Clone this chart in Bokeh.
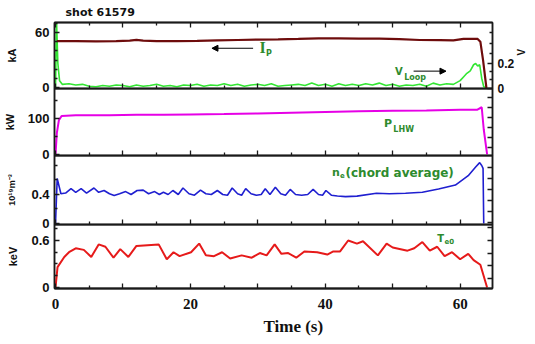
import math
from bokeh.plotting import figure
from bokeh.layouts import column
from bokeh.models import Range1d, LinearAxis, FixedTicker, Label, Arrow, NormalHead, Title
from bokeh.embed import file_html
from bokeh.resources import INLINE

# ---------------- data ----------------
shot_title = "shot 61579"

t_ip = [0.2, 3, 6, 9, 11, 12, 13, 15, 18, 21, 24, 27, 30, 33, 36, 39, 42, 45, 48, 51,
        54, 57, 59, 60.5, 62.6, 63.0, 63.4, 63.9]
ip_ka = [50.5, 50.5, 50.4, 50.5, 51.2, 52.0, 51.2, 50.6, 50.7, 50.9, 51.4, 51.8, 52.2, 52.5,
         53.0, 53.6, 53.6, 53.4, 53.2, 52.8, 51.8, 51.6, 51.5, 53.0, 53.0, 50.0, 30.0, 0.0]

t_vloop = [0, 0.15, 0.35, 0.6, 1, 2, 3, 4, 5, 6, 7, 8, 9, 10, 11, 12, 13, 14, 15, 16, 17, 18,
           19, 20, 21, 22, 23, 24, 25, 26, 27, 28, 29, 30, 31, 32, 33, 34, 35, 36, 37, 38, 39,
           40, 41, 42, 43, 44, 45, 46, 47, 48, 49, 50, 51, 52, 53, 54, 55, 56, 57, 58, 59, 60,
           60.5, 61, 61.5, 62, 62.3, 62.6, 62.9, 63.2, 63.5, 64]
vloop_v = [0.0, 0.55, 0.2, 0.06, 0.03, 0.035, 0.025, 0.03, 0.015, 0.01, 0.02, 0.015, 0.025,
           0.02, 0.01, 0.025, 0.015, 0.02, 0.03, 0.015, 0.02, 0.01, 0.025, 0.02, 0.03, 0.015,
           0.025, 0.02, 0.035, 0.02, 0.03, 0.015, 0.025, 0.03, 0.02, 0.035, 0.015, 0.02, 0.025,
           0.03, 0.02, 0.04, 0.02, 0.03, 0.015, 0.035, 0.02, 0.03, 0.02, 0.035, 0.025, 0.04,
           0.02, 0.03, 0.015, 0.025, 0.02, 0.03, 0.015, 0.04, 0.025, 0.035, 0.03, 0.06, 0.09,
           0.12, 0.14, 0.19, 0.2, 0.18, 0.19, 0.08, 0.01, 0.0]

t_plhw = [0, 0.2, 0.5, 0.9, 3, 8, 12, 16, 20, 25, 30, 35, 40, 45, 50, 55, 60, 62.5, 63.2,
          63.5, 64.0]
plhw_kw = [0, 60, 95, 107, 109, 109, 110, 110, 111, 112, 114, 116, 118, 120, 121, 122, 124,
           124, 131, 70, 0]

t_ne = [0, 0.25, 0.8, 1.5, 2.3, 3.0, 3.8, 4.6, 5.7, 6.4, 7.2, 8.0, 8.7, 9.5, 10.4, 11.2, 12.1,
        13.0, 13.8, 14.7, 15.4, 16.0, 16.7, 17.4, 18.2, 18.9, 19.8, 20.6, 21.5, 22.3, 23.1,
        24.0, 24.8, 25.5, 26.2, 27.0, 27.6, 28.2, 29.0, 29.8, 30.5, 31.1, 31.8, 32.6, 33.4,
        34.1, 34.8, 35.6, 36.5, 37.4, 38.2, 39.0, 39.6, 40.1, 40.9, 41.8, 43, 44.7, 47.6,
        49.5, 51.9, 54.4, 56.8, 59.3, 61.2, 62.3, 62.9, 63.2, 63.4, 63.5]
ne_1e19 = [0, 0.62, 0.41, 0.42, 0.48, 0.43, 0.48, 0.42, 0.49, 0.43, 0.455, 0.41, 0.385, 0.41,
           0.44, 0.40, 0.455, 0.46, 0.41, 0.44, 0.40, 0.43, 0.40, 0.455, 0.40, 0.49, 0.41,
           0.39, 0.46, 0.41, 0.40, 0.455, 0.40, 0.39, 0.49, 0.41, 0.39, 0.48, 0.41, 0.39, 0.40,
           0.48, 0.40, 0.50, 0.41, 0.39, 0.47, 0.40, 0.39, 0.40, 0.47, 0.40, 0.39, 0.455, 0.39,
           0.38, 0.37, 0.377, 0.418, 0.41, 0.418, 0.43, 0.475, 0.53, 0.66, 0.78, 0.84, 0.80,
           0.76, 0.0]

t_te = [0, 0.3, 1.3, 2.0, 3.0, 4.2, 5.3, 6.4, 7.4, 8.6, 9.6, 10.8, 12.0, 15.3, 16.5, 17.5,
        18.4, 20.1, 21.3, 22.3, 23.5, 24.7, 25.9, 27.6, 29.1, 30.3, 31.3, 32.5, 33.5, 34.5,
        35.7, 36.9, 38.8, 40.3, 41.2, 42.2, 43.4, 44.7, 45.6, 47.8, 49.1, 50.0, 52.2, 53.2,
        54.4, 55.5, 56.6, 57.7, 58.8, 60.0, 61.2, 62.0, 63.0, 64.0]
te_kev = [0, 0.26, 0.39, 0.45, 0.50, 0.48, 0.39, 0.55, 0.52, 0.38, 0.49, 0.39, 0.53, 0.55,
          0.36, 0.45, 0.40, 0.45, 0.56, 0.41, 0.40, 0.45, 0.37, 0.41, 0.38, 0.44, 0.41, 0.55,
          0.43, 0.44, 0.38, 0.46, 0.45, 0.42, 0.46, 0.46, 0.60, 0.56, 0.59, 0.41, 0.56, 0.51,
          0.47, 0.50, 0.58, 0.47, 0.52, 0.40, 0.45, 0.36, 0.43, 0.35, 0.29, 0.0]

x_labeled = [0, 20, 40, 60]
x_long = [0, 10, 20, 30, 40, 50, 60]
x_short = [5, 15, 25, 35, 45, 55]

# ---------------- styling helpers ----------------
W = 535
LEFT = 54
RIGHT = 37
OVER = 7          # each panel's canvas overlaps the one above by this many px
X_RANGE = (-0.15, 64.8)
AX_COLOR = "#1a1a1a"
GREEN = "#2e8b2e"
TICK_FONT = "Liberation Sans"
SERIF = "Liberation Serif"
ANN_FONT = "DejaVu Sans"


def base_axis(ax):
    ax.axis_line_color = AX_COLOR
    ax.axis_line_width = 1.5
    ax.major_tick_line_color = AX_COLOR
    ax.minor_tick_line_color = AX_COLOR
    ax.major_tick_line_width = 1.5
    ax.minor_tick_line_width = 1.3
    ax.major_tick_in = 5
    ax.major_tick_out = 0
    ax.minor_tick_in = 3
    ax.minor_tick_out = 0
    ax.major_label_standoff = 0
    return ax


def tick_only_axis(p, loc, ticks, length, range_name="default"):
    ax = LinearAxis(ticker=FixedTicker(ticks=[], minor_ticks=ticks))
    if loc in ("left", "right"):
        ax.y_range_name = range_name
    base_axis(ax)
    ax.minor_tick_in = length
    p.add_layout(ax, loc)


def labeled_y_axis(p, loc, major, minor, title, title_size, title_standoff,
                   range_name="default", label_size="13px", orientation="parallel"):
    ax = LinearAxis(ticker=FixedTicker(ticks=major, minor_ticks=minor), y_range_name=range_name)
    base_axis(ax)
    ax.major_label_text_font = TICK_FONT
    ax.major_label_text_font_style = "bold"
    ax.major_label_text_font_size = label_size
    ax.major_label_text_color = "#111111"
    ax.major_label_standoff = 5
    ax.axis_label = title
    ax.axis_label_text_font = TICK_FONT
    ax.axis_label_text_font_style = "bold"
    ax.axis_label_text_font_size = title_size
    ax.axis_label_text_color = "#111111"
    ax.axis_label_standoff = title_standoff
    ax.axis_label_orientation = orientation
    p.add_layout(ax, loc)


def make_fig(frame_h, y_range, top=0, bottom=OVER, overlap=True):
    p = figure(width=W, height=top + frame_h + bottom,
               x_range=Range1d(*X_RANGE), y_range=Range1d(*y_range),
               output_backend="svg", toolbar_location=None,
               x_axis_location=None, y_axis_location=None,
               min_border_left=LEFT, min_border_right=RIGHT,
               min_border_top=top, min_border_bottom=bottom)
    if overlap:
        p.margin = (-OVER, 0, 0, 0)
    p.grid.visible = False
    p.outline_line_color = AX_COLOR
    p.outline_line_width = 1.5
    p.background_fill_alpha = 0
    p.border_fill_alpha = 0
    return p


def x_ticks(p, loc):
    tick_only_axis(p, loc, x_long, 5)
    tick_only_axis(p, loc, x_short, 3)


def green(p, x, y, text, size, font=ANN_FONT, align="center", baseline="middle"):
    p.add_layout(Label(x=x, y=y, text=text, text_align=align, text_baseline=baseline,
                       text_font=font, text_font_style="bold", text_font_size=size,
                       text_color=GREEN))


def arrow(p, x0, x1, y):
    p.add_layout(Arrow(end=NormalHead(size=6, fill_color="black", line_color="black"),
                       x_start=x0, y_start=y, x_end=x1, y_end=y,
                       line_color="black", line_width=1))


# ---------------- panel 1: Ip and V_loop ----------------
p1 = make_fig(66, (-0.54, 70.7), top=22, overlap=False)
p1.title.text = shot_title
p1.title.text_font = ANN_FONT
p1.title.text_font_style = "bold"
p1.title.text_font_size = "11px"
p1.title.text_color = "#111111"
p1.title.align = "left"
p1.title.offset = 11
p1.title.standoff = 7
p1.extra_y_ranges = {"v": Range1d(-0.004, 0.535)}
p1.line(t_vloop, vloop_v, y_range_name="v", line_color="#33e633", line_width=1.6)
p1.line(t_ip, ip_ka, line_color="#6e0c0c", line_width=2.2)
x_ticks(p1, "below")
x_ticks(p1, "above")
labeled_y_axis(p1, "left", [0, 60], [10, 20, 30, 40, 50, 70], "kA", "11px", 14)
labeled_y_axis(p1, "right", [0, 0.2], [0.067, 0.133, 0.283, 0.367, 0.45], "V", "10px", 4,
               range_name="v", label_size="12px", orientation=math.pi / 2)
# I_P
green(p1, 30.7, 43.4, "I", "16px", font=SERIF)
green(p1, 31.2, 37.5, "P", "8px", align="left")
arrow(p1, 29.3, 23.2, 42.9)
# V_Loop
green(p1, 50.9, 17.7, "V", "10px")
green(p1, 51.7, 11.5, "Loop", "8px", align="left")
arrow(p1, 53.1, 57.9, 18.2)

# ---------------- panel 2: P_LHW ----------------
p2 = make_fig(67, (-2.8, 183))
p2.line(t_plhw, plhw_kw, line_color="#e600e6", line_width=2)
x_ticks(p2, "below")
labeled_y_axis(p2, "left", [0, 100], [50, 150], "kW", "11px", 9)
tick_only_axis(p2, "right", [20, 48, 76, 103, 131, 159], 5)
green(p2, 49.3, 86, "P", "11px")
green(p2, 50.1, 68, "LHW", "8px", align="left")

# ---------------- panel 3: n_e ----------------
p3 = make_fig(69, (-0.014, 0.938))
p3.line(t_ne, ne_1e19, line_color="#1f1fd0", line_width=1.6)
x_ticks(p3, "below")
labeled_y_axis(p3, "left", [0, 0.4], [0.2, 0.6, 0.8], "10¹⁹m⁻³", "9px", 11)
tick_only_axis(p3, "right", [0.018, 0.166, 0.317, 0.465, 0.616, 0.776], 5)
green(p3, 41.0, 0.703, "n", "11px", align="left", baseline="alphabetic")
green(p3, 42.2, 0.665, "e", "7px", align="left", baseline="alphabetic")
green(p3, 43.0, 0.703, "(chord average)", "12px", align="left", baseline="alphabetic")

# ---------------- panel 4: T_e0 ----------------
p4 = make_fig(64, (-0.013, 0.804), bottom=56)
p4.line(t_te, te_kev, line_color="#e61a1a", line_width=2)
x_ticks(p4, "below")
xa = LinearAxis(ticker=FixedTicker(ticks=x_labeled, minor_ticks=[]))
base_axis(xa)
xa.major_tick_in = 0
xa.major_label_text_font = SERIF
xa.major_label_text_font_style = "bold"
xa.major_label_text_font_size = "15px"
xa.major_label_text_color = "#111111"
xa.major_label_standoff = 10
p4.add_layout(xa, "below")
p4.add_layout(Title(text="Time (s)", align="left", offset=209, standoff=6,
                    text_font=SERIF, text_font_style="bold", text_font_size="17px",
                    text_color="#111111"), "below")
labeled_y_axis(p4, "left", [0, 0.6], [0.15, 0.3, 0.45, 0.75], "keV", "11px", 9)
tick_only_axis(p4, "right", [0.12, 0.28, 0.44, 0.60, 0.77], 5)
green(p4, 57.1, 0.628, "T", "10px")
green(p4, 57.7, 0.596, "e0", "7px", align="left")

layout = column(p1, p2, p3, p4, spacing=0)
open("out.html", "w").write(file_html(layout, INLINE))
